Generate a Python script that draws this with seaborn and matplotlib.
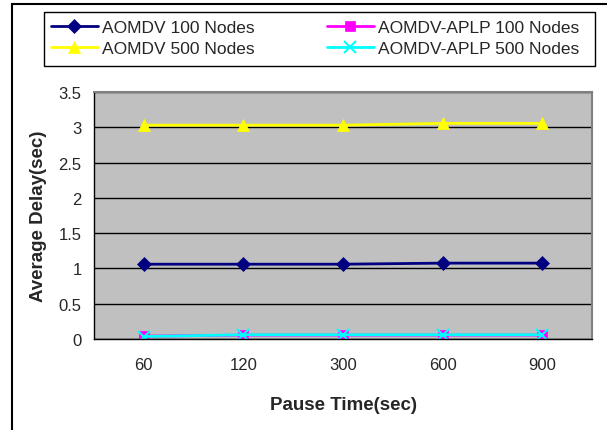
import pandas as pd
import numpy as np
import matplotlib.pyplot as plt
import seaborn as sns
from matplotlib.patches import Rectangle

pause_time = ["60", "120", "300", "600", "900"]
aomdv_100 = [1.06, 1.06, 1.06, 1.075, 1.075]
aomdv_500 = [3.03, 3.03, 3.03, 3.055, 3.055]
aplp_100 = [0.04, 0.055, 0.055, 0.055, 0.055]
aplp_500 = [0.035, 0.06, 0.06, 0.06, 0.06]

series = [
    ("AOMDV 100 Nodes", aomdv_100, "#000080", "D", 7),
    ("AOMDV 500 Nodes", aomdv_500, "#FFFF00", "^", 9),
    ("AOMDV-APLP 100 Nodes", aplp_100, "#FF00FF", "s", 7),
    ("AOMDV-APLP 500 Nodes", aplp_500, "#00FFFF", "x", 8),
]

sns.set_style("white")
plt.rcParams['font.family'] = ['Liberation Sans', 'DejaVu Sans']

fig = plt.figure(figsize=(6.07, 4.31), dpi=100)
ax = fig.add_axes([94/607, 1-340/431, 498/607, 247/431])
ax.set_facecolor("#C0C0C0")

x_pos = np.arange(len(pause_time))
for name, vals, col, mk, ms in series:
    df = pd.DataFrame({"x": x_pos, "y": vals})
    sns.lineplot(data=df, x="x", y="y", ax=ax, color=col, marker=mk, markersize=ms,
                 markeredgecolor=col, markeredgewidth=1.5 if mk == "x" else 0.5,
                 linewidth=2, label=name, legend=False)

ax.set_xlim(-0.5, 4.5)
ax.set_ylim(0, 3.5)
ax.set_yticks(np.arange(0, 3.51, 0.5))
ax.set_yticklabels(["0", "0.5", "1", "1.5", "2", "2.5", "3", "3.5"])
ax.set_xticks(x_pos)
ax.set_xticklabels(pause_time)
ax.set_xticks(np.arange(-0.5, 4.6, 1), minor=True)
ax.tick_params(axis="x", which="major", length=0, pad=13, labelsize=12)
ax.tick_params(axis="x", which="minor", length=5, direction="out", color="black")
ax.tick_params(axis="y", length=5, direction="out", color="black", labelsize=12, pad=4)
ax.yaxis.grid(True, color="black", linewidth=1)
ax.xaxis.grid(False)
ax.set_axisbelow(True)

for s in ["left", "bottom"]:
    ax.spines[s].set_color("black")
    ax.spines[s].set_linewidth(1)
for s in ["top", "right"]:
    ax.spines[s].set_color("#808080")
    ax.spines[s].set_linewidth(1.5)

ax.set_xlabel("Pause Time(sec)", fontsize=13.5, fontweight="bold", labelpad=17)
ax.set_ylabel("Average Delay(sec)", fontsize=13.5, fontweight="bold", labelpad=8)

# legend: two single-column legends inside one drawn box
handles, labels = ax.get_legend_handles_labels()
for i, x0 in enumerate([51, 327]):
    fig.legend(handles[2*i:2*i+2], labels[2*i:2*i+2], loc="upper left",
               bbox_to_anchor=(x0/607, 1-21/431), fontsize=12.5, frameon=False,
               borderaxespad=0, borderpad=0, handlelength=2.7, handletextpad=0.25,
               labelspacing=0.33)

fig.patches.append(Rectangle((44/607, 1-67/431), 551/607, 54/431, transform=fig.transFigure,
                             fill=False, edgecolor="black", linewidth=1))
fig.patches.append(Rectangle((12/607, -0.1), 1.0, 1-5/431+0.1, transform=fig.transFigure,
                             fill=False, edgecolor="black", linewidth=1.5))

fig.savefig("out.png", dpi=100)
